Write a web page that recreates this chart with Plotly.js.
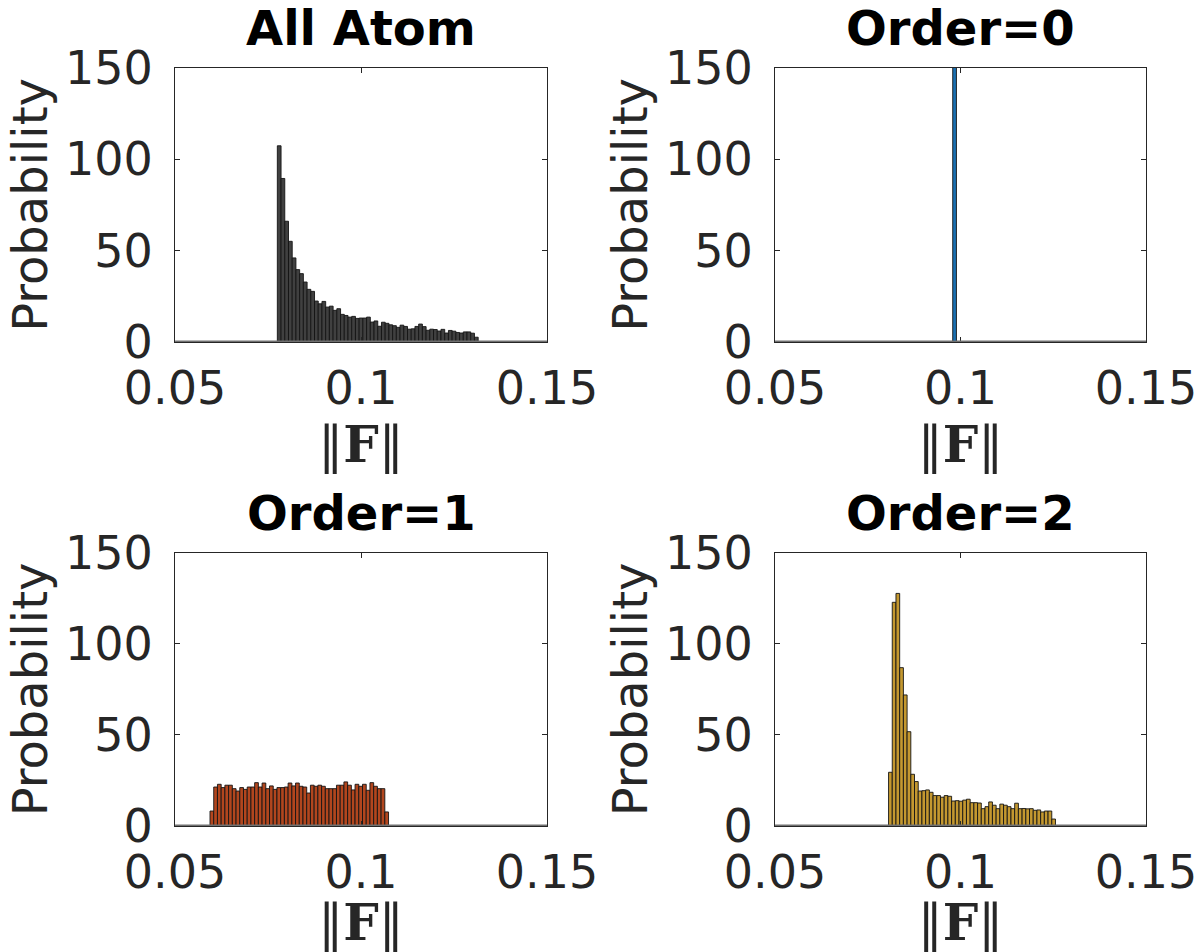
<!DOCTYPE html>
<html><head><meta charset="utf-8">
<script src="https://cdn.plot.ly/plotly-3.0.1.min.js"></script>
<style>html,body{margin:0;padding:0;background:#fff}</style>
</head><body><div id="chart" style="width:1199px;height:952px"></div>
<script>
const panelTitles = ['All Atom', 'Order=0', 'Order=1', 'Order=2'];
const binWidth = 0.001;
const xTickVals = [0.05, 0.1, 0.15];
const xTickText = ['0.05', '0.1', '0.15'];
const yTickVals = [0, 50, 100, 150];
const yTickText = ['0', '50', '100', '150'];

const allAtomStart = 0.0775;
const allAtomValues = [107.4, 89.5, 66.1, 55.1, 46.0, 39.6, 37.4, 32.8, 28.8, 27.7,
  22.4, 20.9, 22.2, 19.1, 19.6, 17.3, 18.2, 15.1, 14.5, 13.6,
  14.0, 12.9, 13.1, 13.1, 13.6, 10.9, 11.5, 8.6, 10.8, 10.2,
  9.4, 8.9, 8.0, 9.2, 8.5, 7.0, 7.2, 8.5, 9.8, 8.4,
  6.4, 7.0, 6.8, 6.0, 6.9, 4.9, 6.3, 5.9, 5.2, 4.9, 5.5, 5.5, 4.8, 2.6];

const order0Start = 0.0979;
const order0Values = [1000];

const order1Start = 0.0594;
const order1Values = [8.2, 21.4, 22.9, 21.1, 22.4, 22.4, 20.5, 19.2, 21.1, 20.1,
  21.4, 21.4, 23.8, 21.4, 23.6, 20.5, 22.0, 20.1, 21.1, 21.1,
  21.4, 23.6, 22.0, 23.6,
  21.8, 21.4, 18.1, 22.4, 21.8, 22.4, 21.8, 20.5, 20.5, 20.5,
  22.4, 22.4, 24.2, 22.4, 19.8, 22.9, 21.8, 22.9, 19.6, 23.8,
  21.8, 20.5, 20.5, 7.7];

const order2Start = 0.0806;
const order2Values = [29.5, 122.9, 127.8, 87.0, 72.0, 51.8, 28.4, 24.4, 19.2, 19.4,
  19.8, 18.5, 16.7, 16.7, 15.8, 16.7, 16.3, 13.7, 13.9, 13.6,
  14.2, 14.7, 12.8, 12.8, 12.6, 9.5, 10.6, 13.2, 11.4, 9.5,
  12.0, 11.4, 10.6, 9.5, 12.5, 9.5, 9.6, 9.4, 9.5, 8.6,
  8.8, 7.7, 8.2, 8.2, 3.8];

const starts = [allAtomStart, order0Start, order1Start, order2Start];
const series = [allAtomValues, order0Values, order1Values, order2Values];
const fills = ['#404040', '#1a6fb0', '#b2461e', '#c49830'];

const axSuffix = ['', '2', '3', '4'];
const xDomains = [[0.1460, 0.4562], [0.6464, 0.9558], [0.1460, 0.4562], [0.6464, 0.9558]];
const yDomains = [[0.6408, 0.9286], [0.6408, 0.9286], [0.1324, 0.4191], [0.1324, 0.4191]];

const FONT = 'DejaVu Sans, Arial, sans-serif';
const axColor = '#262626';

const data = series.map((vals, i) => ({
  type: 'bar',
  y: vals,
  x0: starts[i] + binWidth / 2,
  dx: binWidth,
  width: binWidth,
  marker: {color: fills[i], line: {color: '#141414', width: 0.9}},
  xaxis: 'x' + axSuffix[i],
  yaxis: 'y' + axSuffix[i],
  hoverinfo: 'x+y',
  showlegend: false
}));

const layout = {
  width: 1199, height: 952,
  margin: {l: 0, r: 0, t: 0, b: 0},
  paper_bgcolor: '#ffffff', plot_bgcolor: '#ffffff',
  bargap: 0,
  font: {family: FONT, color: axColor},
  showlegend: false,
  annotations: [],
  shapes: []
};

for (let i = 0; i < 4; i++) {
  const s = axSuffix[i];
  layout['xaxis' + s] = {
    domain: xDomains[i], anchor: 'y' + s, range: [0.05, 0.15],
    tickvals: xTickVals, ticktext: xTickText,
    ticks: 'inside', ticklen: 5, tickcolor: axColor, tickwidth: 1,
    showline: true, linecolor: axColor, linewidth: 1, mirror: 'ticks',
    showgrid: false, zeroline: false,
    ticklabelstandoff: 6,
    tickfont: {family: FONT, size: 46, color: axColor},
    title: {text: '\u2016<b>F</b>\u2016', font: {family: 'DejaVu Serif, Liberation Serif, serif', size: 50, color: axColor}, standoff: 4}
  };
  layout['yaxis' + s] = {
    domain: yDomains[i], anchor: 'x' + s, range: [0, 150],
    tickvals: yTickVals, ticktext: yTickText,
    ticks: 'inside', ticklen: 5, tickcolor: axColor, tickwidth: 1,
    showline: true, linecolor: axColor, linewidth: 1, mirror: 'ticks',
    showgrid: false, zeroline: false,
    ticklabelstandoff: 12,
    tickfont: {family: FONT, size: 46, color: axColor},
    title: {text: 'Probability', font: {family: FONT, size: 48, color: axColor}, standoff: 2}
  };
  layout.annotations.push({
    text: '<b>' + panelTitles[i] + '</b>',
    xref: 'x' + s + ' domain', yref: 'y' + s + ' domain',
    x: 0.5, y: 1, xanchor: 'center', yanchor: 'bottom', yshift: 10,
    showarrow: false,
    font: {family: FONT, size: 48, color: '#000000'}
  });
  layout.shapes.push({
    type: 'line', xref: 'x' + s + ' domain', yref: 'y' + s,
    x0: 0, x1: 1, y0: 0, y1: 0,
    line: {color: '#707070', width: 3}, layer: 'above'
  });
}

Plotly.newPlot('chart', data, layout, {staticPlot: true, displayModeBar: false});
</script>
</body></html>
